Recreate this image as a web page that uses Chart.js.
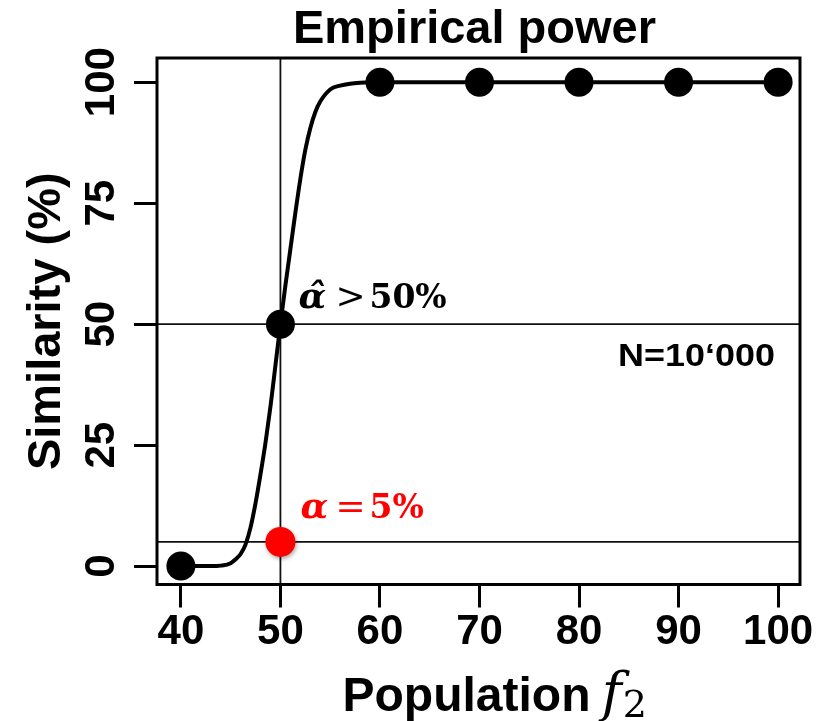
<!DOCTYPE html>
<html>
<head>
<meta charset="utf-8">
<script src="https://cdn.jsdelivr.net/npm/chart.js@4.4.1/dist/chart.umd.min.js"></script>
<style>
  html, body { margin: 0; padding: 0; background: #fff; }
  #wrap { width: 833px; height: 721px; }
</style>
</head>
<body>
<div id="wrap"><canvas id="c" width="833" height="721"></canvas></div>
<script>
// ---- data ----
const curveX = [40, 41, 42, 43, 44, 45, 45.5, 46, 46.5, 47, 47.5, 48, 48.5, 49, 49.5, 50, 50.5, 51, 51.5, 52, 52.5, 53, 53.5, 54, 55, 56, 57, 58, 59, 60, 70, 80, 90, 100];
const curveY = [0, 0, 0, 0, 0.1, 0.6, 1.4, 2.5, 4.5, 8, 13, 19, 25.5, 33, 41.5, 50, 58, 65.5, 73, 80, 86, 90.5, 93.8, 96, 98.5, 99.3, 99.7, 99.9, 100, 100, 100, 100, 100, 100];
const powerX = [40, 50, 60, 70, 80, 90, 100];
const powerY = [0, 50, 100, 100, 100, 100, 100];
const alphaX = [50];
const alphaY = [5];
const refLinesY = [50, 5];
const refLinesX = [50];
const xTickValues = [40, 50, 60, 70, 80, 90, 100];
const yTickValues = [0, 25, 50, 75, 100];
const titleText = 'Empirical power';
const yTitleText = 'Similarity (%)';
const xTitleText = 'Population';
const noteText = 'N=10\u2018000';

const tickFont = { family: "'Liberation Sans Narrow', 'Liberation Sans', Arial, sans-serif", size: 42, weight: 'bold' };

const custom = {
  id: 'custom',
  beforeDatasetsDraw(chart) {
    const { ctx, chartArea: a, scales: { x, y } } = chart;
    ctx.save();
    ctx.strokeStyle = '#111';
    ctx.lineWidth = 1.8;
    refLinesY.forEach(v => {
      const py = y.getPixelForValue(v);
      ctx.beginPath(); ctx.moveTo(a.left, py); ctx.lineTo(a.right, py); ctx.stroke();
    });
    refLinesX.forEach(v => {
      const px = x.getPixelForValue(v);
      ctx.beginPath(); ctx.moveTo(px, a.top); ctx.lineTo(px, a.bottom); ctx.stroke();
    });
    ctx.restore();
  },
  beforeDatasetDraw(chart, args) {
    if (args.index === 1) {
      const ctx = chart.ctx;
      ctx.save();
      ctx.shadowColor = 'rgba(0,0,0,0.35)';
      ctx.shadowBlur = 4;
      ctx.shadowOffsetX = 1;
      ctx.shadowOffsetY = 2;
    }
  },
  afterDatasetDraw(chart, args) {
    if (args.index === 1) chart.ctx.restore();
  },
  afterDatasetsDraw(chart) {
    const { ctx, chartArea: a } = chart;
    ctx.save();
    ctx.strokeStyle = '#000';
    ctx.lineWidth = 3;
    ctx.strokeRect(a.left, a.top, a.right - a.left, a.bottom - a.top);
    ctx.restore();
  },
  afterDraw(chart) {
    const { ctx, chartArea: a, scales: { x, y } } = chart;
    ctx.save();
    ctx.fillStyle = '#000';
    ctx.textBaseline = 'alphabetic';
    // main title
    ctx.font = "bold 47px 'Liberation Sans', Arial, sans-serif";
    ctx.textAlign = 'center';
    ctx.fillText(titleText, (a.left + a.right) / 2 - 4, 43);

    // x axis title
    ctx.textAlign = 'left';
    const sx = (a.left + a.right) / 2 - 136;
    const by = 711;
    ctx.font = "bold 48px 'Liberation Sans', Arial, sans-serif";
    ctx.fillText(xTitleText, sx, by);
    const w1 = ctx.measureText(xTitleText + ' ').width;
    ctx.font = "italic 54px 'DejaVu Serif', 'Liberation Serif', serif";
    ctx.fillText('f', sx + w1 - 2, by);
    const w2 = ctx.measureText('f').width;
    ctx.font = "38px 'DejaVu Serif', 'Liberation Serif', serif";
    ctx.fillText('2', sx + w1 - 2 + w2 + 1, by + 6);

    // annotation: alpha-hat > 50%
    const px = x.getPixelForValue(alphaX[0]);
    const p50 = y.getPixelForValue(powerY[1]);
    const b1 = p50 - 16;
    ctx.font = "bold italic 36px 'DejaVu Serif', serif";
    ctx.fillText('\u03B1\u0302', px + 18, b1);
    ctx.font = "36px 'DejaVu Serif', serif";
    ctx.fillText('>', px + 55, b1);
    ctx.font = "bold 33px 'DejaVu Serif', serif";
    ctx.fillText('50%', px + 89, b1);

    // annotation: alpha = 5%
    const p5 = y.getPixelForValue(alphaY[0]);
    const b2 = p5 - 24;
    ctx.fillStyle = '#ff0000';
    ctx.font = "bold italic 36px 'DejaVu Serif', serif";
    ctx.fillText('\u03B1', px + 20, b2);
    ctx.font = "36px 'DejaVu Serif', serif";
    ctx.fillText('=', px + 55, b2);
    ctx.font = "bold 33px 'DejaVu Serif', serif";
    ctx.fillText('5%', px + 89, b2);

    // N note
    ctx.fillStyle = '#000';
    ctx.save();
    ctx.font = "bold 31px 'Liberation Sans', Arial, sans-serif";
    ctx.textAlign = 'right';
    ctx.translate(a.right - 25, 366);
    ctx.scale(1.16, 1);
    ctx.fillText(noteText, 0, 0);
    ctx.restore();
    ctx.restore();
  }
};

new Chart(document.getElementById('c'), {
  type: 'scatter',
  data: {
    datasets: [
      {
        type: 'scatter',
        data: powerX.map((v, i) => ({ x: v, y: powerY[i] })),
        backgroundColor: '#000',
        borderColor: '#000',
        borderWidth: 0,
        pointRadius: 14.5,
        pointHoverRadius: 14.5,
        clip: false
      },
      {
        type: 'scatter',
        data: alphaX.map((v, i) => ({ x: v, y: alphaY[i] })),
        backgroundColor: '#ff0000',
        borderColor: '#ff0000',
        borderWidth: 0,
        pointRadius: 15,
        pointHoverRadius: 15,
        clip: false
      },
      {
        type: 'line',
        data: curveX.map((v, i) => ({ x: v, y: curveY[i] })),
        borderColor: '#000',
        borderWidth: 4,
        pointRadius: 0,
        fill: false,
        cubicInterpolationMode: 'monotone',
        borderCapStyle: 'round',
        borderJoinStyle: 'round'
      }
    ]
  },
  options: {
    responsive: false,
    animation: false,
    devicePixelRatio: 1,
    layout: { padding: { top: 58, right: 33, left: 0, bottom: 0 } },
    plugins: { legend: { display: false }, tooltip: { enabled: false }, title: { display: false } },
    scales: {
      x: {
        type: 'linear',
        min: 37.6,
        max: 102.2,
        afterBuildTicks: s => { s.ticks = xTickValues.map(v => ({ value: v })); },
        afterFit: s => { s.height = 136.5; },
        grid: { display: true, drawOnChartArea: false, drawTicks: true, tickLength: 23, tickWidth: 3, tickColor: '#000' },
        border: { display: false },
        ticks: { autoSkip: false, maxRotation: 0, minRotation: 0, color: '#000', font: tickFont, padding: 0 },
        title: { display: false }
      },
      y: {
        type: 'linear',
        min: -3.8,
        max: 105,
        afterBuildTicks: s => { s.ticks = yTickValues.map(v => ({ value: v })); },
        afterFit: s => { s.width = 157; },
        grid: { display: true, drawOnChartArea: false, drawTicks: true, tickLength: 23, tickWidth: 3, tickColor: '#000' },
        border: { display: false },
        ticks: { autoSkip: false, minRotation: 90, maxRotation: 90, crossAlign: 'center', color: '#000', font: tickFont, padding: -3 },
        title: {
          display: true,
          text: yTitleText,
          color: '#000',
          font: { family: "'Liberation Sans', Arial, sans-serif", size: 47, weight: 'bold' },
          padding: { top: 19, bottom: 0 }
        }
      }
    }
  },
  plugins: [custom]
});
</script>
</body>
</html>
